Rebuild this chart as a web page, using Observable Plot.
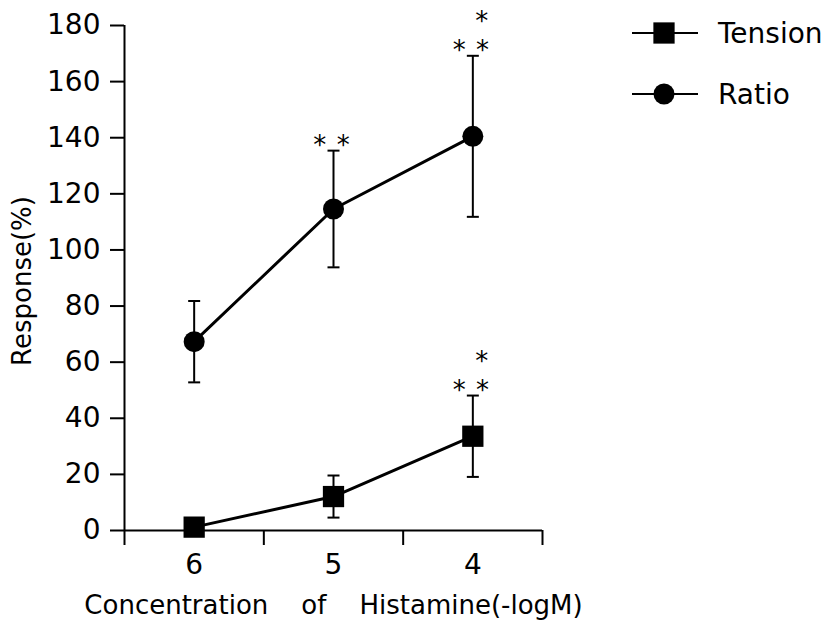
<!DOCTYPE html>
<html>
<head>
<meta charset="utf-8">
<script src="https://cdn.jsdelivr.net/npm/d3@7"></script>
<script src="https://cdn.jsdelivr.net/npm/@observablehq/plot@0.6"></script>
<style>
  body { margin: 0; background: #fff; }
  #wrap { position: relative; width: 830px; height: 623px; font-family: "DejaVu Sans", sans-serif; }
  #legend { position: absolute; left: 0; top: 0; }
</style>
</head>
<body>
<div id="wrap"></div>
<script>
// ---- data ----
const concentrations = [6, 5, 4];
const tensionMean = [1.2, 12.1, 33.6];
const tensionSE = [0, 7.5, 14.5];
const ratioMean = [67.3, 114.6, 140.5];
const ratioSE = [14.5, 20.8, 28.7];
const seriesNames = ["Tension", "Ratio"];
const yTicks = [0, 20, 40, 60, 80, 100, 120, 140, 160, 180];
const xBoundaries = [6.5, 5.5, 4.5, 3.5];
const sigConc = [5, 4, 4];
const sigSeries = ["Ratio", "Ratio", "Tension"];
const sigLower = ["*\u2009\u2009*", "*\u2009\u2009*", "*\u2009\u2009*"];
const sigUpper = ["", "*", "*"];
const xLabel = "Concentration\u00a0\u00a0\u00a0\u00a0of\u00a0\u00a0\u00a0\u00a0Histamine(-logM)";
const yLabel = "Response(%)";

const table = [];
concentrations.forEach((c, i) => {
  table.push({series: "Tension", conc: c, mean: tensionMean[i], se: tensionSE[i]});
  table.push({series: "Ratio", conc: c, mean: ratioMean[i], se: ratioSE[i]});
});
const sig = sigConc.map((c, i) => {
  const r = table.find(d => d.conc === c && d.series === sigSeries[i]);
  return {conc: c, top: r.mean + r.se, lower: sigLower[i], upper: sigUpper[i]};
});
const capSymbol = {draw(ctx) { ctx.moveTo(-6, 0); ctx.lineTo(6, 0); }};
const font = "DejaVu Sans";

const chart = Plot.plot({
  width: 830, height: 623,
  marginLeft: 124, marginRight: 288, marginTop: 25, marginBottom: 93,
  x: {domain: [xBoundaries[0], xBoundaries[xBoundaries.length - 1]], axis: null},
  y: {domain: [yTicks[0], yTicks[yTicks.length - 1]], axis: null},
  style: {fontFamily: font, fontSize: "28px", color: "#000", background: "#fff"},
  marks: [
    Plot.axisY(yTicks, {tickSize: 14, tickPadding: 10, strokeWidth: 2, fontSize: 28, label: null}),
    Plot.axisX(xBoundaries, {tickSize: 15, strokeWidth: 2, tickFormat: () => "", label: null}),
    Plot.axisX(concentrations, {tickSize: 0, tickPadding: 24, fontSize: 28, tickFormat: d => String(d), label: null}),
    Plot.ruleX([xBoundaries[0]], {strokeWidth: 2}),
    Plot.ruleY([yTicks[0]], {strokeWidth: 2}),
    Plot.text([yLabel], {frameAnchor: "left", textAnchor: "middle", lineAnchor: "middle", rotate: -90, dx: -102, dy: 3, fontSize: 26}),
    Plot.text([xLabel], {frameAnchor: "bottom", dy: 83, fontSize: 26}),
    Plot.line(table, {x: "conc", y: "mean", z: "series", stroke: "#000", strokeWidth: 3}),
    Plot.ruleX(table.filter(d => d.se > 0), {x: "conc", y1: d => d.mean - d.se, y2: d => d.mean + d.se, strokeWidth: 2}),
    Plot.dot(table.filter(d => d.se > 0), {x: "conc", y: d => d.mean + d.se, symbol: capSymbol, stroke: "#000", strokeWidth: 2, r: 6}),
    Plot.dot(table.filter(d => d.se > 0), {x: "conc", y: d => d.mean - d.se, symbol: capSymbol, stroke: "#000", strokeWidth: 2, r: 6}),
    Plot.dot(table.filter(d => d.series === "Ratio"), {x: "conc", y: "mean", symbol: "circle", r: 10.5, fill: "#000"}),
    Plot.dot(table.filter(d => d.series === "Tension"), {x: "conc", y: "mean", symbol: "square", r: 12, fill: "#000"}),
    Plot.text(sig, {x: "conc", y: "top", text: "lower", dy: -5, dx: -2, fontSize: 26}),
    Plot.text(sig, {x: "conc", y: "top", text: "upper", dy: -34, dx: 9, fontSize: 26})
  ]
});
document.getElementById("wrap").appendChild(chart);

// legend
const lg = d3.select("#wrap").append("svg").attr("id", "legend")
  .attr("width", 830).attr("height", 130).style("pointer-events", "none");
const symbols = {Tension: d3.symbolSquare, Ratio: d3.symbolCircle};
const sizes = {Tension: Math.PI * 144, Ratio: Math.PI * 110};
seriesNames.forEach((name, i) => {
  const g = lg.append("g").attr("transform", `translate(0,${33 + i * 61})`);
  g.append("line").attr("x1", 632).attr("x2", 698).attr("stroke", "#000").attr("stroke-width", 2);
  g.append("path").attr("transform", "translate(664,0)").attr("d", d3.symbol(symbols[name], sizes[name])()).attr("fill", "#000");
  g.append("text").attr("x", 718).attr("y", 0).attr("dy", "0.36em")
    .attr("font-family", font).attr("font-size", 28).text(name);
});
</script>
</body>
</html>
